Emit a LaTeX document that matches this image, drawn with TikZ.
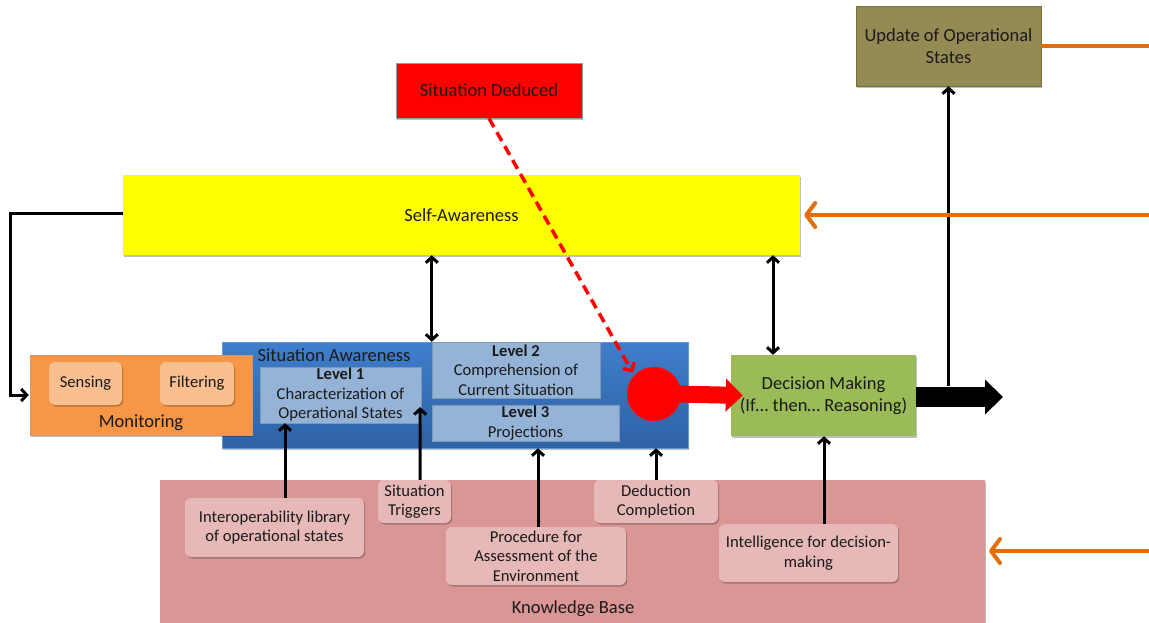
\documentclass[tikz,border=0pt]{standalone}
\usepackage{fontspec}
\setmainfont{Carlito}
\usetikzlibrary{arrows.meta,shadows,calc}

\definecolor{txt}{HTML}{1A1A1A}
\definecolor{olivebox}{HTML}{948A54}
\definecolor{selfyellow}{HTML}{FFFF00}
\definecolor{monorange}{HTML}{F79646}
\definecolor{monlight}{HTML}{F9BF8F}
\definecolor{satop}{HTML}{3F7ECC}
\definecolor{sabot}{HTML}{2E62A6}
\definecolor{levelblue}{HTML}{95B3D7}
\definecolor{decgreen}{HTML}{9BBB59}
\definecolor{kbpink}{HTML}{D99694}
\definecolor{kblight}{HTML}{E6B9B8}
\definecolor{feedorange}{HTML}{E46C0A}
\definecolor{rededge}{HTML}{8E9BB5}

\tikzset{
  x=1pt, y=-1pt,
  every node/.style={text=txt, inner sep=0pt, align=center},
  bigfont/.style={font=\fontsize{18.5}{22}\selectfont},
  smallfont/.style={font=\fontsize{16.6}{19.5}\selectfont},
  shade/.style={drop shadow={shadow xshift=1.2pt, shadow yshift=-1.5pt, opacity=0.25, fill=black}},
  box/.style={rectangle, shade, bigfont},
  levelbox/.style={rectangle, fill=levelblue, draw=levelblue!85!black, line width=0.4pt, smallfont},
  kbitem/.style={rectangle, rounded corners=6pt, fill=kblight, shade, smallfont},
  monitem/.style={rectangle, rounded corners=6pt, fill=monlight, shade, smallfont},
  tipb/.tip={Straight Barb[length=5.5pt,width=12pt]},
  arr/.style={draw=black, line width=3pt, -tipb},
  darr/.style={draw=black, line width=3pt, tipb-tipb},
  feed/.style={draw=feedorange, line width=4pt, line cap=round},
  feedarr/.style={feed, -{Straight Barb[length=9pt,width=24pt,round]}},
}

\begin{document}
\begin{tikzpicture}
\useasboundingbox (0,0) rectangle (1149,622);

% knowledge base (runs past the lower edge)
\fill[kbpink, shade] (160,480) rectangle (985,640);
\node[bigfont] (kblabel) at (573,609) {Knowledge Base};

% top row
\node[box, fill=olivebox, draw=olivebox!80!black, line width=0.4pt,
      minimum width=185, minimum height=80] (upd) at (948.5,46) {Update of Operational\\States};
\node[box, fill=red, draw=rededge, line width=0.6pt,
      minimum width=186, minimum height=55] (sd) at (489,90.5) {Situation Deduced};
\node[box, fill=selfyellow, minimum width=677, minimum height=80] (self) at (461.5,215) {Self-Awareness};

% situation awareness
\node[rectangle, shade, top color=satop, bottom color=sabot, draw=satop!80!white, line width=0.4pt,
      minimum width=466, minimum height=106] (sa) at (455,395) {};
\node[bigfont] (satitle) at (334,355) {Situation Awareness};
\node[levelbox, minimum width=161, minimum height=56] (l1) at (340.5,395)
  {\textbf{Level 1}\\Characterization of\\Operational States};
\node[levelbox, minimum width=168, minimum height=56] (l2) at (516,370)
  {\textbf{Level 2}\\Comprehension of\\Current Situation};
\node[levelbox, minimum width=187, minimum height=36] (l3) at (525.5,423)
  {\textbf{Level 3}\\Projections};
\node[circle, fill=red, draw=red!80!rededge, line width=0.4pt, minimum size=54] (circ) at (654,394) {};

% monitoring, lying over the left end of the situation awareness block
\node[box, fill=monorange, draw=monorange!70!rededge, line width=0.5pt,
      minimum width=222, minimum height=80] (mon) at (141,395) {};
\node[bigfont] (monlabel) at (141,423) {Monitoring};
\node[monitem, minimum width=73, minimum height=43] (sens) at (85.5,383.5) {Sensing};
\node[monitem, minimum width=74, minimum height=43] (filt) at (197,383.5) {Filtering};

% decision making
\node[box, fill=decgreen, minimum width=185, minimum height=81] (dm) at (823.5,395.5)
  {Decision Making\\(If\dots\ then\dots\ Reasoning)};

% knowledge items
\node[kbitem, minimum width=179, minimum height=59] (interop) at (274.5,527.5)
  {Interoperability library\\of operational states};
\node[kbitem, minimum width=73, minimum height=43] (trig) at (414.5,501.5) {Situation\\Triggers};
\node[kbitem, minimum width=180, minimum height=58] (proc) at (536,556)
  {Procedure for\\Assessment of the\\Environment};
\node[kbitem, minimum width=124, minimum height=43] (ded) at (656,501.5) {Deduction\\Completion};
\node[kbitem, minimum width=179, minimum height=58] (intel) at (808.5,553)
  {Intelligence for decision-\\making};

% free ends of the feedback lines
\coordinate (edgeA) at (1149,46);
\coordinate (edgeB) at (1149,215);
\coordinate (edgeC) at (1149,551);
\coordinate (outtip) at (1003,397);

% connectors
\draw[arr] ([yshift=10pt]upd.south |- dm.east) -- (upd.south);
\draw[feed, line cap=butt] (upd.east) -- (edgeA);
\draw[feedarr] (edgeB) -- ([xshift=4pt]self.east);
\draw[feedarr] (edgeC) -- ([xshift=4pt]edgeC -| 985,0);

\draw[arr] ([yshift=2pt]self.west) -- ++(-112,0) |- ([xshift=-1pt]mon.west);
\draw[darr] (self.south -| l2.north west) -- (l2.north west);
\draw[darr] ([xshift=-50.5pt]self.south -| dm.north) -- ([xshift=-50.5pt]dm.north);

\draw[red, line width=3.5pt, dash pattern=on 10pt off 6pt,
      -{Straight Barb[length=6pt,width=13pt]}] (sd.south) -- ([shift={(-2pt,2pt)}]circ.north west);

\draw[red, line width=17pt, -{Triangle[length=17pt,width=32pt]}] ([xshift=-5pt]circ.east) -- ([xshift=12pt]dm.west);
\draw[black, line width=20pt, -{Triangle[length=18pt,width=34pt]}] ([yshift=-1.5pt]dm.east) -- (outtip);

\draw[arr] ([xshift=10.5pt]interop.north) -- ([xshift=10.5pt]interop.north |- l1.south);
\draw[arr] ([xshift=5.5pt]trig.north) -- ([shift={(-1pt,-12pt)}]l1.east);
\draw[arr] ([xshift=2pt]proc.north) -- ([xshift=2pt]proc.north |- sa.south);
\draw[arr] (ded.north) -- (ded.north |- sa.south);
\draw[arr] ([xshift=15.5pt]intel.north) -- ([xshift=15.5pt]intel.north |- dm.south);
\end{tikzpicture}
\end{document}
